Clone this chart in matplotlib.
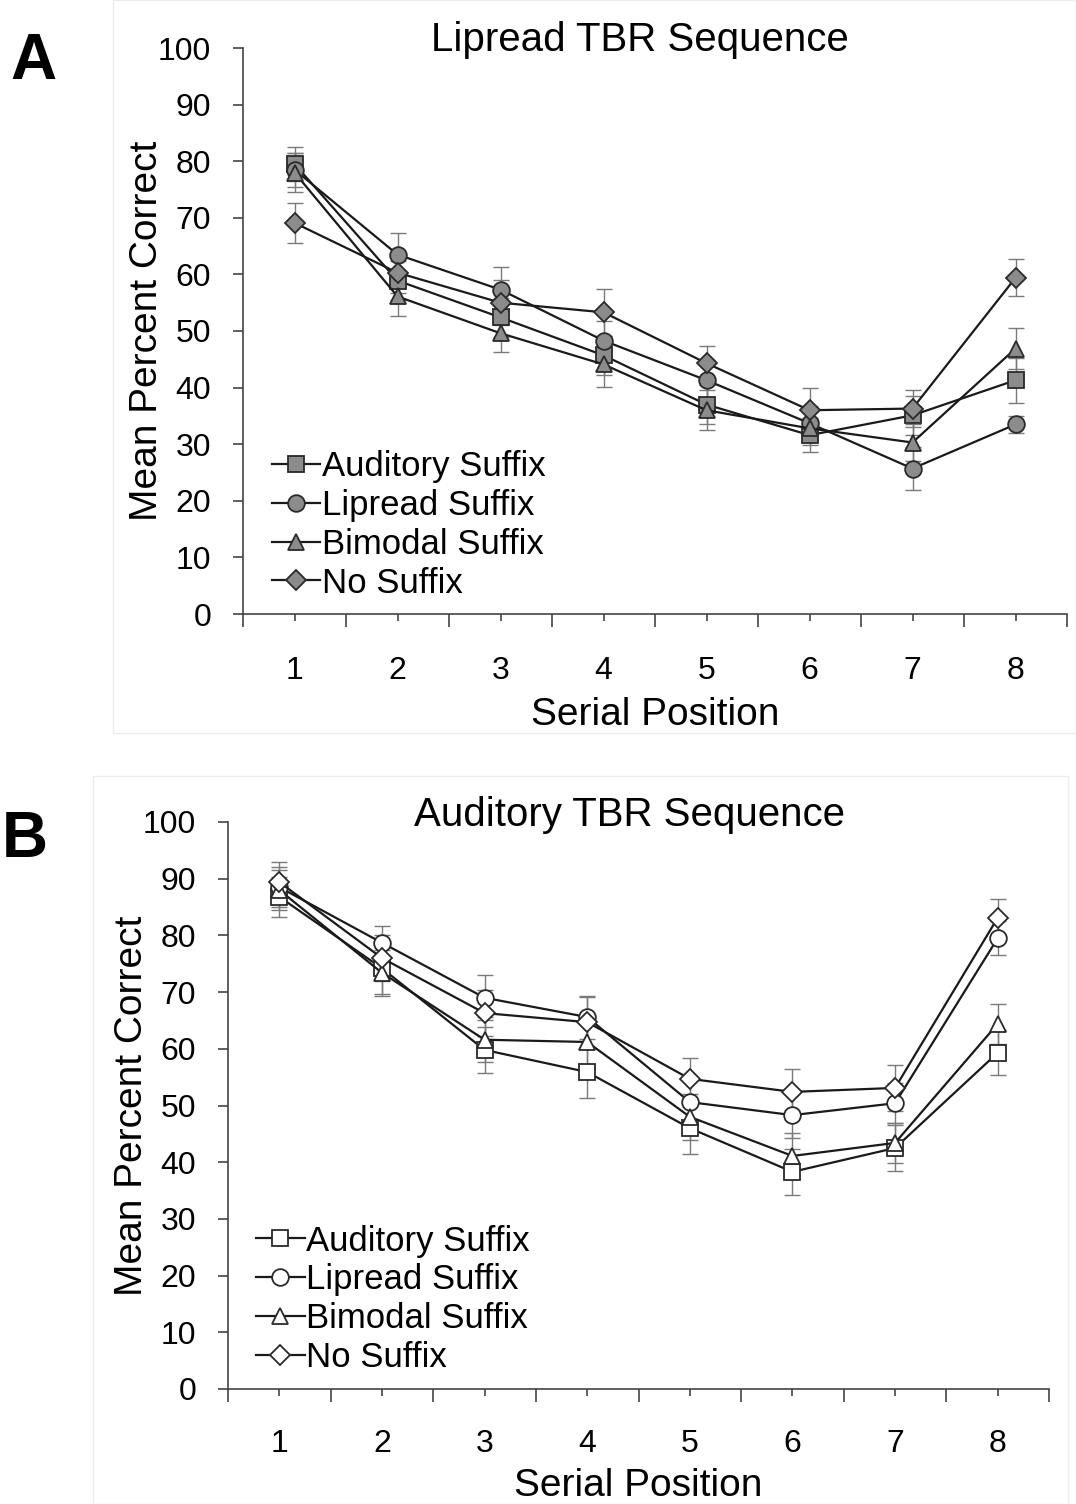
import numpy as np
import matplotlib.pyplot as plt
from matplotlib.patches import Rectangle
from matplotlib.ticker import FixedLocator

plt.rcParams['font.family'] = ['Liberation Sans', 'DejaVu Sans']

positions = [1, 2, 3, 4, 5, 6, 7, 8]
series = ['Auditory Suffix', 'Lipread Suffix', 'Bimodal Suffix', 'No Suffix']
markers = ['s', 'o', '^', 'D']

# panel A - lipread TBR sequence
a_auditory = [79.5, 58.9, 52.4, 45.7, 37.0, 31.6, 35.1, 41.3]
a_lipread = [78.5, 63.5, 57.3, 48.3, 41.3, 33.7, 25.7, 33.5]
a_bimodal = [78.0, 56.1, 49.6, 44.1, 36.0, 32.8, 30.3, 46.9]
a_none = [69.1, 60.3, 55.0, 53.3, 44.3, 36.0, 36.3, 59.4]
a_err_auditory = [3.0, 3.5, 3.5, 3.5, 3.5, 3.0, 3.5, 4.0]
a_err_lipread = [3.0, 3.8, 4.0, 3.5, 3.5, 3.0, 3.8, 1.5]
a_err_bimodal = [3.5, 3.5, 3.3, 4.0, 3.5, 3.0, 3.3, 3.7]
a_err_none = [3.5, 3.5, 4.0, 4.2, 3.0, 3.9, 3.3, 3.3]

# panel B - auditory TBR sequence
b_auditory = [86.8, 74.2, 59.8, 55.9, 46.0, 38.3, 42.5, 59.3]
b_lipread = [88.5, 78.7, 69.0, 65.6, 50.6, 48.3, 50.4, 79.5]
b_bimodal = [88.0, 73.4, 61.6, 61.2, 48.0, 41.1, 43.4, 64.4]
b_none = [89.4, 76.0, 66.3, 64.7, 54.7, 52.4, 53.1, 83.1]
b_err_auditory = [3.5, 4.5, 4.0, 4.5, 4.5, 4.0, 4.0, 4.0]
b_err_lipread = [3.5, 3.0, 4.0, 3.8, 4.0, 4.0, 3.5, 3.0]
b_err_bimodal = [3.5, 4.0, 4.0, 4.0, 4.0, 4.0, 3.5, 3.5]
b_err_none = [3.5, 4.0, 4.0, 4.5, 3.7, 4.1, 4.1, 3.3]

W, H = 1076, 1504
fig = plt.figure(figsize=(W / 100, H / 100), dpi=100)

# faint panel frames
fig.patches.append(Rectangle((113 / W, 1 - 733 / H), (W - 113) / W, 733 / H,
                             transform=fig.transFigure, fill=False,
                             edgecolor='#ececec', lw=1))
fig.patches.append(Rectangle((93 / W, 0), (1068 - 93) / W, 1 - 776 / H,
                             transform=fig.transFigure, fill=False,
                             edgecolor='#ececec', lw=1))


def panel(rect, vals, errs, title, title_xy, face, leg_anchor, xpad, xlpad):
    ax = fig.add_axes(rect)
    for v, e, m, name in zip(vals, errs, markers, series):
        ax.errorbar(positions, v, yerr=e, fmt='none', ecolor='#7a7a7a',
                    elinewidth=1, capsize=6, capthick=1, zorder=1)
        ms = 10 if m == 'D' else 12
        ax.plot(positions, v, marker=m, color='#1a1a1a', lw=1.6,
                markersize=ms, markerfacecolor=face,
                markeredgecolor='#2a2a2a', markeredgewidth=1.3,
                label=name, zorder=2)
    ax.set_xlim(0.5, 8.5)
    ax.set_ylim(0, 100)
    ax.set_yticks(range(0, 101, 10))
    ax.set_xticks(positions)
    ax.xaxis.set_minor_locator(FixedLocator(np.arange(0.5, 9, 1)))
    for s in ['top', 'right']:
        ax.spines[s].set_visible(False)
    for s in ['left', 'bottom']:
        ax.spines[s].set_color('#444444')
        ax.spines[s].set_linewidth(1.2)
    ax.tick_params(axis='x', which='major', length=5, width=1.2,
                   color='#444444', labelsize=23, pad=xpad)
    ax.tick_params(axis='x', which='minor', length=9, width=1.2,
                   color='#444444')
    ax.tick_params(axis='y', length=7, width=1.2, color='#444444',
                   labelsize=23, pad=16)
    ax.set_xlabel('Serial Position', fontsize=28, labelpad=xlpad)
    ax.set_ylabel('Mean Percent Correct', fontsize=28, labelpad=-5)
    fig.text(title_xy[0] / W, 1 - title_xy[1] / H, title, fontsize=29,
             ha='center', va='center')
    ax.legend(loc='upper left', bbox_to_anchor=leg_anchor, frameon=False,
              fontsize=25, handlelength=1.4, handletextpad=0.05,
              labelspacing=0.17, borderpad=0, borderaxespad=0)
    return ax


panel([243 / W, 1 - 614 / H, 824 / W, 566 / H],
      [a_auditory, a_lipread, a_bimodal, a_none],
      [a_err_auditory, a_err_lipread, a_err_bimodal, a_err_none],
      'Lipread TBR Sequence', (640, 40), '#8c8c8c', (0.035, 0.29), 25, 8)
panel([228 / W, 1 - 1389 / H, 821 / W, 567 / H],
      [b_auditory, b_lipread, b_bimodal, b_none],
      [b_err_auditory, b_err_lipread, b_err_bimodal, b_err_none],
      'Auditory TBR Sequence', (629, 815), 'white', (0.034, 0.29), 24, 6)

fig.text(33 / W, 1 - 62 / H, 'A', fontsize=46, fontweight='bold',
         ha='center', va='center')
fig.text(25 / W, 1 - 840 / H, 'B', fontsize=46, fontweight='bold',
         ha='center', va='center')

fig.savefig('out.png', dpi=100)
